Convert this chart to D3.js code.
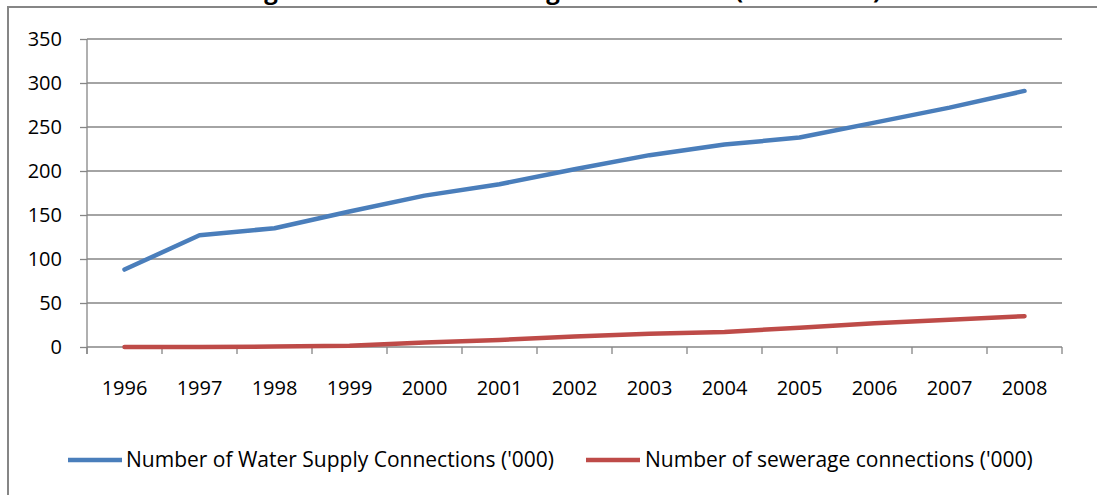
<!DOCTYPE html>
<html>
<head>
<meta charset="utf-8">
<script src="https://cdn.jsdelivr.net/npm/d3@7"></script>
<style>
  html, body { margin: 0; padding: 0; background: #fff; }
  svg { display: block; }
  text { font-family: "Open Sans", "Noto Sans", sans-serif; fill: #000; }
</style>
</head>
<body>
<svg id="chart" width="1097" height="495"></svg>
<script>
// Connections per year, in thousands
const years = ["1996","1997","1998","1999","2000","2001","2002","2003","2004","2005","2006","2007","2008"];
const waterSupply = [88, 127, 135, 154, 172, 185, 202, 218, 230, 238, 255, 272, 291];
const sewerage    = [0, 0, 0.5, 1.5, 5, 8, 12, 15, 17, 22, 27, 31, 35];
const yTicks = [0, 50, 100, 150, 200, 250, 300, 350];
const seriesNames = ["Number of Water Supply Connections ('000)", "Number of sewerage connections ('000)"];
const seriesColors = ["#4A7EBB", "#BE4B48"];
const titleText = "Change in Water and Sewerage Connections (1996 - 2008)";

const svg = d3.select("#chart");
const W = 1097, H = 495;
const plot = { left: 87, right: 1062, top: 39, bottom: 347 };
const gridColor = "#868686";
const labelSize = "20px";
const legendSize = "21px";

// outer chart frame (extends past the window on the right and bottom)
svg.append("rect")
  .attr("x", 8).attr("y", 7)
  .attr("width", W + 20).attr("height", H + 20)
  .attr("fill", "none")
  .attr("stroke", gridColor)
  .attr("stroke-width", 2);

// chart title, sitting mostly above the visible area
svg.append("text")
  .attr("x", 542).attr("y", -1)
  .attr("text-anchor", "middle")
  .style("font-weight", "bold")
  .style("font-size", "24px")
  .text(titleText);

const x = d3.scaleBand().domain(years).range([plot.left, plot.right]);
const y = d3.scaleLinear().domain([0, 350]).range([plot.bottom, plot.top]);

// left tick marks and value labels
const yAxis = svg.append("g")
  .attr("transform", `translate(${plot.left},0)`)
  .call(d3.axisLeft(y).tickValues(yTicks).tickSize(7).tickPadding(18).tickFormat(d3.format("d")));
yAxis.select(".domain").remove();
yAxis.selectAll(".tick line").attr("stroke", gridColor).attr("stroke-width", 1.3);
yAxis.selectAll(".tick text")
  .style("font-size", labelSize)
  .style("font-family", "\"Open Sans\", sans-serif")
  .attr("fill", "#000");

// horizontal gridlines
svg.append("g")
  .selectAll("line")
  .data(yTicks)
  .join("line")
  .attr("x1", plot.left).attr("x2", plot.right)
  .attr("y1", d => y(d)).attr("y2", d => y(d))
  .attr("stroke", gridColor)
  .attr("stroke-width", 1.3);

// vertical value axis line
svg.append("line")
  .attr("x1", plot.left).attr("x2", plot.left)
  .attr("y1", plot.top).attr("y2", plot.bottom + 7)
  .attr("stroke", gridColor)
  .attr("stroke-width", 1.3);

// category axis: tick marks at band boundaries, labels at band centers
const boundaries = years.map(d => x(d)).concat([plot.right]);
svg.append("g")
  .selectAll("line")
  .data(boundaries)
  .join("line")
  .attr("x1", d => d).attr("x2", d => d)
  .attr("y1", plot.bottom).attr("y2", plot.bottom + 7)
  .attr("stroke", gridColor)
  .attr("stroke-width", 1.3);

svg.append("g")
  .selectAll("text")
  .data(years)
  .join("text")
  .attr("x", d => x(d) + x.bandwidth() / 2)
  .attr("y", 395)
  .attr("text-anchor", "middle")
  .style("font-size", labelSize)
  .text(d => d);

// series lines
const line = d3.line()
  .x((d, i) => x(years[i]) + x.bandwidth() / 2)
  .y(d => y(d));

[waterSupply, sewerage].forEach((vals, i) => {
  svg.append("path")
    .datum(vals)
    .attr("d", line)
    .attr("fill", "none")
    .attr("stroke", seriesColors[i])
    .attr("stroke-width", 4.5)
    .attr("stroke-linecap", "round")
    .attr("stroke-linejoin", "round");
});

// legend
const legendItems = [
  { x0: 68, x1: 122, tx: 126 },
  { x0: 586, x1: 640, tx: 645 }
];
legendItems.forEach((it, i) => {
  svg.append("line")
    .attr("x1", it.x0).attr("x2", it.x1)
    .attr("y1", 460).attr("y2", 460)
    .attr("stroke", seriesColors[i])
    .attr("stroke-width", 4.5);
  svg.append("text")
    .attr("x", it.tx).attr("y", 460)
    .attr("dy", "0.35em")
    .style("font-size", legendSize)
    .text(seriesNames[i]);
});
</script>
</body>
</html>
